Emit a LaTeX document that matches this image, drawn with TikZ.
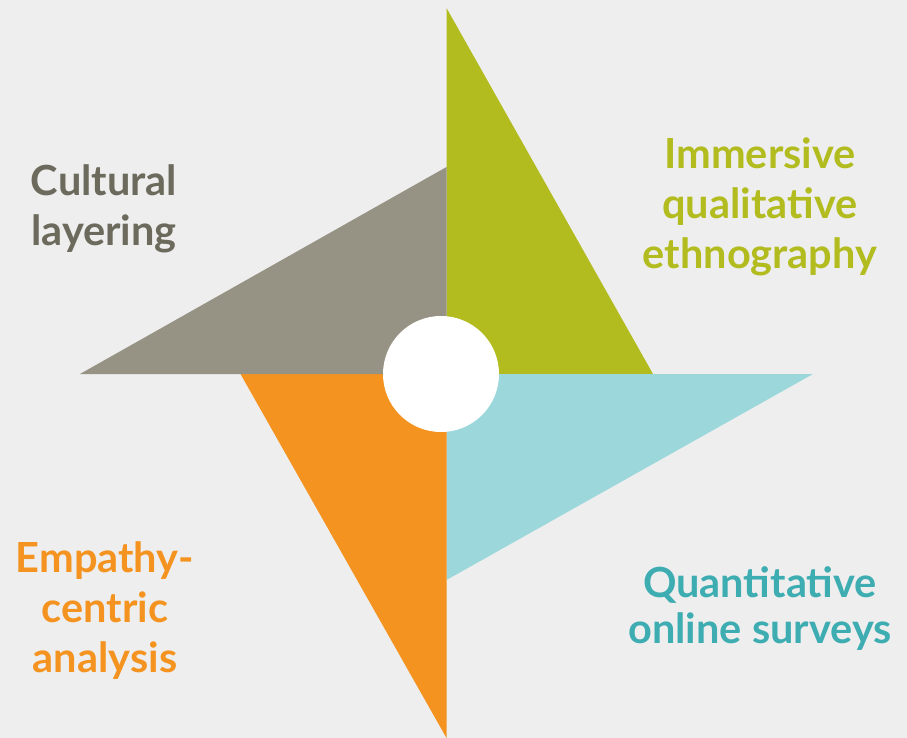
\documentclass[tikz,border=0pt]{standalone}
\usepackage{fontspec}
\setmainfont{Lato}
\usepackage{xcolor}

\definecolor{bgcol}{HTML}{EEEEEE}
\definecolor{leafgreen}{HTML}{B2BC1E}
\definecolor{leafgray}{HTML}{969384}
\definecolor{leaforange}{HTML}{F4931F}
\definecolor{leafcyan}{HTML}{9CD8DB}
\definecolor{textgray}{HTML}{6B6A5C}
\definecolor{textteal}{HTML}{3DADB2}

\begin{document}
\begin{tikzpicture}[x=1pt,y=-1pt,
        lbl/.style={align=center, inner sep=0pt,
            font=\fontsize{41.5}{50}\selectfont\bfseries},
        hub/.style={circle, fill=white, minimum size=116pt, inner sep=0pt}]
        \useasboundingbox[fill=bgcol] (0,0) rectangle (907,738);
        \coordinate (O) at (446.5,374);

        % the four blades
        \fill[leafgreen]  (O) -- (446.5,8)   -- (653,374) -- cycle;
        \fill[leafcyan]   (O) -- (813,374)   -- (446.5,580) -- cycle;
        \fill[leaforange] (O) -- (446.5,738) -- (240.5,374) -- cycle;
        \fill[leafgray]   (O) -- (80,374)    -- (446.5,167) -- cycle;

        \node[hub](hub) at (441,374) {};

        % captions
        \node[lbl, textgray](cult) at (104,209) {Cultural\\layering};
        \node[lbl, leafgreen](imm) at (760,207) {Immersive\\qualitative\\ethnography};
        \node[lbl, leaforange](emp) at (105,611) {Empathy-\\centric\\analysis};
        \node[lbl, textteal, font=\fontsize{41.5}{46}\selectfont\bfseries](quant)
            at (760,609) {Quantitative\\online surveys};
\end{tikzpicture}
\end{document}
